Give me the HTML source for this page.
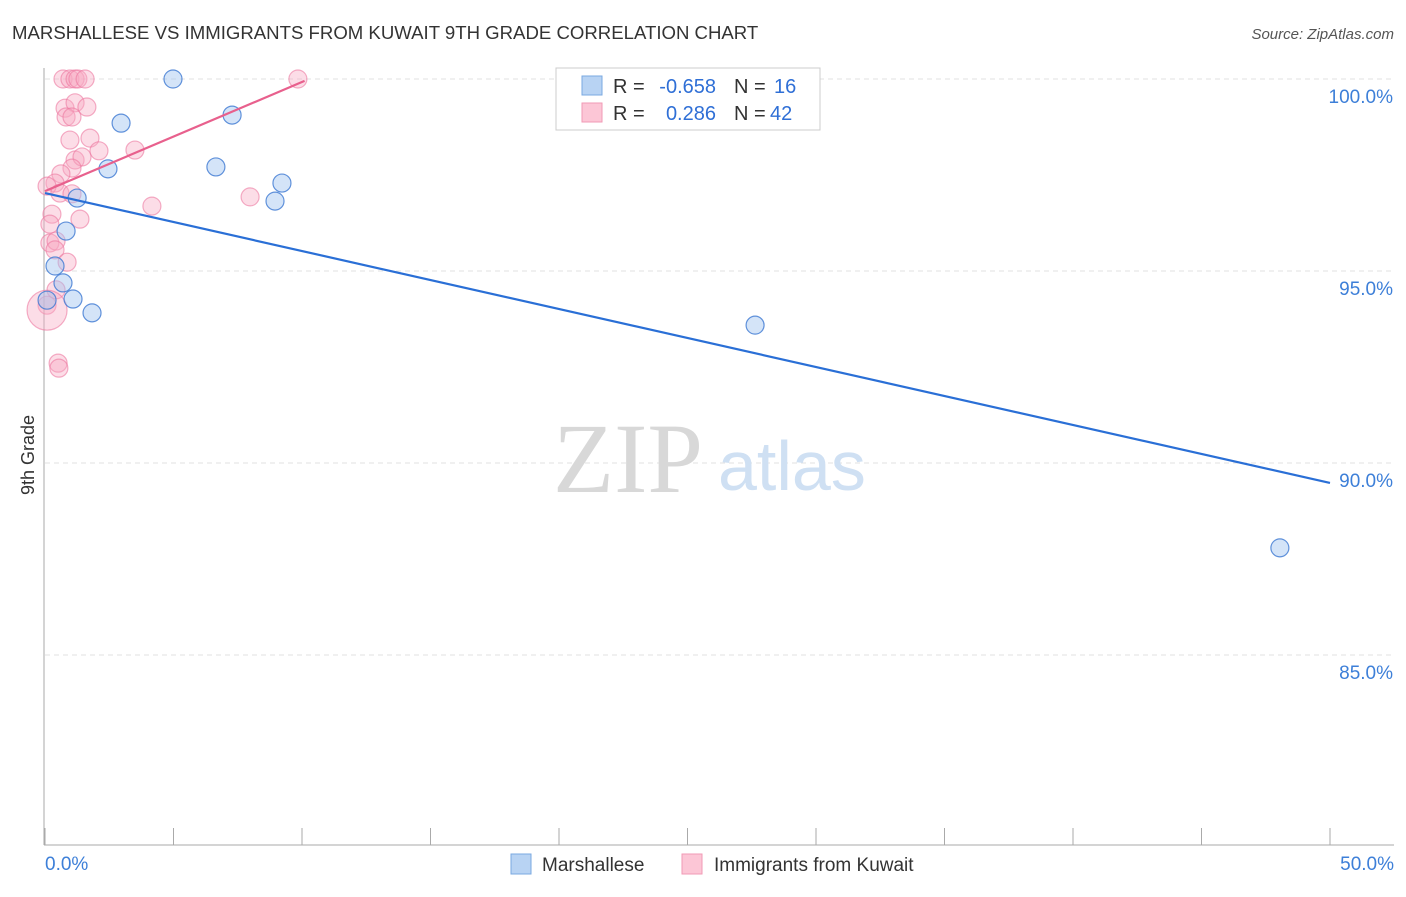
<!DOCTYPE html>
<html><head><meta charset="utf-8"><style>
body{margin:0;background:#fff;font-family:"Liberation Sans",sans-serif;}
svg text{font-family:"Liberation Sans",sans-serif;}
</style></head><body>
<svg id="c" width="1406" height="892">
<text x="12" y="39" font-size="18.6" fill="#333">MARSHALLESE VS IMMIGRANTS FROM KUWAIT 9TH GRADE CORRELATION CHART</text>
<text x="1394" y="39" font-size="15" fill="#555" font-style="italic" text-anchor="end">Source: ZipAtlas.com</text>
<g id="grid"></g>
<text x="553" y="492" font-size="100" fill="#d8d8d8" style="font-family:'Liberation Serif',serif">ZIP</text>
<text x="718" y="490" font-size="70" fill="#cfe0f3">atlas</text>
<line x1="44" y1="68" x2="44" y2="845" stroke="#aaa"/>
<line x1="44" y1="845" x2="1394" y2="845" stroke="#aaa"/>
<g id="ticks"></g>
<text x="34" y="455" font-size="18" fill="#333" transform="rotate(-90 34 455)" text-anchor="middle">9th Grade</text>
<g id="pts"></g>
<g id="lines"></g>
<g>
<rect x="556" y="68" width="264" height="62" fill="#fff" stroke="#ccc"/>
<rect x="582" y="76" width="20" height="19" fill="#b8d3f3" stroke="#7aa8e0"/>
<rect x="582" y="103" width="20" height="19" fill="#fcc6d6" stroke="#f19ab5"/>
<text x="613" y="93" font-size="20" fill="#333">R =</text>
<text x="716" y="93" font-size="20" fill="#2f6fd6" text-anchor="end">-0.658</text>
<text x="734" y="93" font-size="20" fill="#333">N =</text>
<text x="774" y="93" font-size="20" fill="#2f6fd6">16</text>
<text x="613" y="120" font-size="20" fill="#333">R =</text>
<text x="716" y="120" font-size="20" fill="#2f6fd6" text-anchor="end">0.286</text>
<text x="734" y="120" font-size="20" fill="#333">N =</text>
<text x="770" y="120" font-size="20" fill="#2f6fd6">42</text>
</g>
<g>
<rect x="511" y="854" width="20" height="20" fill="#b8d3f3" stroke="#7aa8e0"/>
<text x="542" y="871" font-size="19" fill="#333">Marshallese</text>
<rect x="682" y="854" width="20" height="20" fill="#fcc6d6" stroke="#f19ab5"/>
<text x="714" y="871" font-size="19" fill="#333">Immigrants from Kuwait</text>
</g>
</svg>
<script>
const yTicks=[100,95,90,85];
const xTickLabels=["0.0%","50.0%"];
const blueX=[4.98,2.96,7.28,2.45,6.65,9.22,8.95,1.25,0.82,0.39,0.70,1.09,0.08,1.83,27.63,48.05];
const blueY=[100,98.85,99.06,97.66,97.71,97.29,96.82,96.90,96.04,95.13,94.69,94.27,94.24,93.91,93.59,87.79];
const pinkX=[0.70,0.97,1.17,1.28,1.56,9.84,0.78,1.17,1.63,0.82,1.05,1.75,0.97,2.10,3.50,1.17,1.44,1.05,0.62,0.39,0.08,0.58,1.05,4.16,7.98,0.27,1.36,0.19,0.19,0.43,0.39,0.86,0.43,0.08,0.51,0.54,0.08];
const pinkY=[100,100,100,100,100,100,99.24,99.38,99.27,99.01,99.01,98.46,98.41,98.13,98.15,97.89,97.97,97.68,97.53,97.29,97.21,97.03,97.01,96.69,96.93,96.48,96.35,96.22,95.73,95.78,95.55,95.23,94.51,94.11,92.60,92.47,93.98];
const pinkR=[9,9,9,9,9,9,9,9,9,9,9,9,9,9,9,9,9,9,9,9,9,9,9,9,9,9,9,9,9,9,9,9,9,9,9,9,20];
const blueTrend=[[0,97.03],[50,89.48]];
const pinkTrend=[[0,97.08],[10.1,99.95]];
const X=v=>45+v*25.7, Y=v=>79+(100-v)*38.4;
const NS="http://www.w3.org/2000/svg";
function mk(t,a,p){const e=document.createElementNS(NS,t);for(const k in a)e.setAttribute(k,a[k]);document.getElementById(p).appendChild(e);return e;}
yTicks.forEach(t=>{
 const l=mk('line',{x1:45,x2:1394,y1:Y(t),y2:Y(t),stroke:'#e2e2e2','stroke-dasharray':'5,4'},'grid');
 
 
 const tx=mk('text',{x:1393,y:Y(t)+24,'font-size':19,fill:'#3d7fd8','text-anchor':'end'},'grid');
 tx.textContent=t.toFixed(1)+'%';
 
 
});
for(let i=0;i<=10;i++){
 const l=mk('line',{x1:X(i*5),x2:X(i*5),y1:828,y2:845,stroke:'#aaa'},'ticks');
 
 
}
[[0,xTickLabels[0],'start',45],[50,xTickLabels[1],'end',1394]].forEach(d=>{
 const t=mk('text',{x:d[3],y:870,'font-size':19,fill:'#3d7fd8','text-anchor':d[2]},'ticks');
 t.textContent=d[1];
 
 
});
pinkX.forEach((v,i)=>{
 const c=mk('circle',{cx:X(v),cy:Y(pinkY[i]),r:pinkR[i],fill:'rgba(248,170,195,0.4)',stroke:'rgba(236,120,160,0.6)','stroke-width':1.2},'pts');
 
 
});
blueX.forEach((v,i)=>{
 const c=mk('circle',{cx:X(v),cy:Y(blueY[i]),r:9,fill:'rgba(160,195,240,0.45)',stroke:'rgba(60,120,210,0.8)','stroke-width':1.2},'pts');
 
 
});
const bl=mk('line',{x1:X(blueTrend[0][0]),y1:Y(blueTrend[0][1]),x2:X(blueTrend[1][0]),y2:Y(blueTrend[1][1]),stroke:'#2a6fd6','stroke-width':2.2},'lines');


const pl=mk('line',{x1:X(pinkTrend[0][0]),y1:Y(pinkTrend[0][1]),x2:X(pinkTrend[1][0]),y2:Y(pinkTrend[1][1]),stroke:'#e8608d','stroke-width':2.2},'lines');


</script>
</body></html>
